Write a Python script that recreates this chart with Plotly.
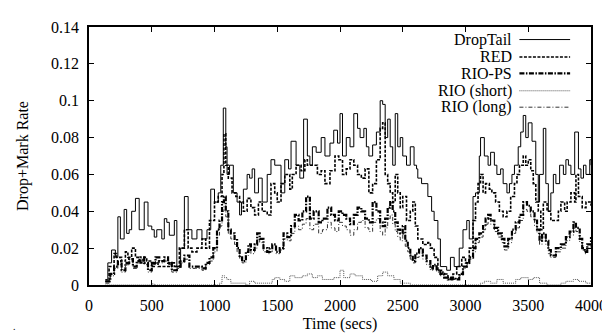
import plotly.graph_objects as go

# ---- data (time in secs, drop+mark rate) ----
droptail = [(130,0.003),(150,0.012),(180,0.019),(210,0.015),(230,0.037),(250,0.025),(280,0.041),(300,0.028),
    (320,0.030),(340,0.040),(370,0.047),(400,0.030),(440,0.045),(470,0.032),(500,0.030),(520,0.026),(540,0.030),
    (580,0.025),(600,0.036),(620,0.034),(640,0.027),(680,0.035),(700,0.010),(730,0.020),(760,0.048),(790,0.030),
    (820,0.025),(860,0.030),(900,0.025),(940,0.030),(970,0.052),(1000,0.045),(1030,0.050),(1050,0.065),(1070,0.096),
    (1090,0.075),(1100,0.060),(1120,0.065),(1150,0.050),(1180,0.045),(1200,0.038),(1215,0.045),(1230,0.052),
    (1260,0.060),(1280,0.058),(1300,0.063),(1320,0.050),(1350,0.058),(1380,0.045),(1420,0.060),(1450,0.068),
    (1480,0.065),(1530,0.050),(1560,0.068),(1590,0.063),(1610,0.078),(1650,0.065),(1680,0.058),(1710,0.090),
    (1740,0.070),(1760,0.065),(1780,0.075),(1810,0.072),(1850,0.080),(1880,0.070),(1920,0.077),(1950,0.084),
    (1980,0.077),(2000,0.093),(2020,0.070),(2050,0.080),(2080,0.075),(2110,0.093),(2140,0.085),(2160,0.080),
    (2190,0.085),(2210,0.075),(2230,0.070),(2260,0.076),(2290,0.083),(2320,0.100),(2340,0.098),(2360,0.080),
    (2380,0.090),(2400,0.075),(2420,0.065),(2440,0.093),(2460,0.075),(2480,0.080),(2500,0.070),(2530,0.065),
    (2560,0.075),(2590,0.065),(2610,0.063),(2620,0.058),(2650,0.055),(2700,0.048),(2730,0.040),(2750,0.035),
    (2780,0.025),(2800,0.010),(2850,0.008),(2880,0.015),(2910,0.010),(2950,0.020),(2980,0.030),(3010,0.035),
    (3030,0.025),(3060,0.048),(3080,0.050),(3110,0.070),(3120,0.080),(3150,0.070),(3180,0.065),(3200,0.072),
    (3230,0.065),(3250,0.060),(3280,0.063),(3300,0.055),(3330,0.050),(3350,0.055),(3370,0.060),(3390,0.065),
    (3420,0.075),(3440,0.083),(3460,0.092),(3480,0.080),(3500,0.088),(3530,0.078),(3560,0.060),(3580,0.045),
    (3590,0.060),(3620,0.085),(3640,0.055),(3660,0.040),(3680,0.050),(3700,0.060),(3720,0.055),(3750,0.065),
    (3780,0.060),(3800,0.068),(3820,0.065),(3840,0.060),(3870,0.083),(3900,0.063),(3920,0.058),(3940,0.065),
    (3960,0.060),(3990,0.068),(4000,0.065)]

red = [(130,0.002),(160,0.010),(200,0.017),(220,0.015),(260,0.013),(290,0.018),(310,0.015),(340,0.020),(370,0.015),
    (400,0.012),(430,0.015),(460,0.013),(500,0.010),(520,0.012),(550,0.010),(600,0.010),(640,0.012),(680,0.010),
    (720,0.020),(760,0.030),(790,0.020),(820,0.018),(860,0.020),(900,0.025),(930,0.020),(960,0.035),(1000,0.045),
    (1030,0.048),(1060,0.060),(1075,0.082),(1090,0.065),(1110,0.058),(1140,0.050),(1170,0.048),(1200,0.045),
    (1230,0.040),(1260,0.047),(1290,0.042),(1320,0.038),(1350,0.045),(1380,0.040),(1420,0.038),(1450,0.055),
    (1480,0.050),(1500,0.045),(1530,0.055),(1560,0.060),(1600,0.052),(1620,0.060),(1650,0.065),(1690,0.062),
    (1720,0.068),(1740,0.065),(1780,0.065),(1820,0.060),(1850,0.062),(1880,0.055),(1920,0.062),(1960,0.070),
    (1990,0.068),(2020,0.060),(2050,0.063),(2080,0.068),(2110,0.065),(2140,0.060),(2170,0.058),(2200,0.063),
    (2230,0.050),(2260,0.055),(2290,0.068),(2320,0.085),(2340,0.088),(2360,0.060),(2380,0.055),(2400,0.050),
    (2420,0.045),(2440,0.060),(2460,0.050),(2480,0.042),(2500,0.048),(2530,0.035),(2560,0.040),(2580,0.045),
    (2600,0.032),(2620,0.025),(2660,0.022),(2700,0.023),(2720,0.020),(2750,0.015),(2780,0.008),(2820,0.006),
    (2860,0.004),(2880,0.003),(2900,0.006),(2930,0.010),(2970,0.015),(3000,0.012),(3030,0.020),(3060,0.035),
    (3080,0.045),(3100,0.055),(3120,0.060),(3140,0.050),(3160,0.055),(3190,0.052),(3210,0.050),(3240,0.045),
    (3270,0.040),(3300,0.037),(3330,0.040),(3360,0.048),(3390,0.055),(3410,0.060),(3430,0.065),(3460,0.070),
    (3480,0.065),(3500,0.068),(3520,0.062),(3540,0.055),(3560,0.045),(3580,0.040),(3600,0.030),(3620,0.045),
    (3650,0.040),(3680,0.035),(3720,0.035),(3740,0.040),(3760,0.045),(3790,0.040),(3810,0.045),(3840,0.050),
    (3870,0.045),(3880,0.060),(3900,0.048),(3930,0.042),(3960,0.045),(4000,0.043)]

rio_ps = [(130,0.002),(170,0.006),(200,0.010),(230,0.013),(260,0.008),(290,0.012),(320,0.014),(350,0.010),(380,0.013),
    (410,0.015),(440,0.012),(470,0.008),(500,0.012),(530,0.015),(560,0.013),(600,0.015),(630,0.012),(660,0.008),
    (700,0.010),(730,0.013),(760,0.016),(800,0.010),(850,0.010),(900,0.009),(930,0.012),(960,0.015),(990,0.020),
    (1020,0.030),(1040,0.035),(1060,0.045),(1075,0.048),(1090,0.040),(1110,0.030),(1130,0.028),(1160,0.025),
    (1180,0.020),(1200,0.015),(1220,0.013),(1250,0.018),(1270,0.022),(1290,0.019),(1320,0.022),(1340,0.028),
    (1360,0.025),(1390,0.020),(1420,0.018),(1440,0.020),(1460,0.022),(1490,0.018),(1520,0.020),(1550,0.028),
    (1580,0.026),(1610,0.032),(1640,0.038),(1670,0.035),(1700,0.040),(1730,0.048),(1760,0.036),(1790,0.040),
    (1830,0.034),(1860,0.036),(1900,0.042),(1930,0.038),(1960,0.035),(1990,0.040),(2020,0.038),(2050,0.036),
    (2080,0.033),(2110,0.038),(2140,0.042),(2170,0.040),(2200,0.036),(2230,0.034),(2260,0.045),(2290,0.040),
    (2320,0.034),(2340,0.032),(2360,0.036),(2380,0.042),(2400,0.045),(2420,0.040),(2440,0.034),(2460,0.030),
    (2480,0.028),(2500,0.032),(2520,0.024),(2540,0.020),(2560,0.016),(2580,0.013),(2600,0.017),(2630,0.020),
    (2660,0.016),(2690,0.013),(2720,0.009),(2740,0.011),(2770,0.008),(2800,0.006),(2830,0.004),(2860,0.003),
    (2890,0.004),(2920,0.003),(2950,0.006),(2980,0.010),(3010,0.012),(3030,0.015),(3060,0.020),(3080,0.025),
    (3110,0.028),(3140,0.032),(3160,0.036),(3180,0.038),(3200,0.035),(3230,0.031),(3260,0.028),(3290,0.025),
    (3310,0.021),(3340,0.025),(3370,0.030),(3400,0.034),(3430,0.038),(3460,0.045),(3490,0.043),(3520,0.040),
    (3550,0.035),(3570,0.030),(3590,0.024),(3610,0.028),(3640,0.024),(3660,0.019),(3680,0.016),(3720,0.020),
    (3760,0.022),(3800,0.026),(3830,0.029),(3860,0.034),(3880,0.031),(3910,0.025),(3930,0.020),(3950,0.018),
    (3970,0.022),(4000,0.026)]

rio_short = [(130,0.0),(480,0.0),(500,0.0006),(520,0.0),(1040,0.001),(1060,0.005),(1080,0.004),(1100,0.003),
    (1130,0.001),(1250,0.0),(1280,0.002),(1320,0.001),(1460,0.003),(1480,0.004),(1520,0.003),(1560,0.002),
    (1600,0.005),(1640,0.004),(1700,0.005),(1740,0.006),(1780,0.004),(1820,0.005),(1860,0.003),(1950,0.004),
    (2000,0.008),(2030,0.004),(2080,0.006),(2120,0.005),(2180,0.003),(2250,0.002),(2300,0.005),(2340,0.007),
    (2380,0.005),(2430,0.003),(2480,0.001),(2560,0.0),(3120,0.001),(3150,0.002),(3200,0.001),(3250,0.003),
    (3300,0.001),(3400,0.003),(3440,0.004),(3500,0.003),(3540,0.004),(3590,0.001),(3650,0.0),(3760,0.001),
    (3800,0.002),(3860,0.003),(3900,0.002),(3960,0.001),(4000,0.001)]

rio_long = [(130,0.001),(170,0.005),(200,0.009),(230,0.011),(260,0.007),(290,0.011),(320,0.013),(350,0.009),(380,0.012),
    (410,0.013),(440,0.011),(470,0.007),(500,0.011),(530,0.013),(560,0.012),(600,0.013),(630,0.011),(660,0.007),
    (700,0.009),(730,0.012),(760,0.014),(800,0.009),(850,0.009),(900,0.008),(930,0.011),(960,0.013),(990,0.018),
    (1020,0.027),(1040,0.032),(1060,0.040),(1075,0.043),(1090,0.037),(1110,0.028),(1130,0.025),(1160,0.022),
    (1180,0.018),(1200,0.014),(1220,0.012),(1250,0.016),(1270,0.020),(1290,0.017),(1320,0.020),(1340,0.025),
    (1360,0.023),(1390,0.018),(1420,0.017),(1440,0.018),(1460,0.020),(1490,0.017),(1520,0.019),(1550,0.025),
    (1580,0.024),(1610,0.028),(1640,0.032),(1670,0.030),(1700,0.033),(1730,0.036),(1760,0.030),(1790,0.033),
    (1830,0.028),(1860,0.030),(1900,0.034),(1930,0.031),(1960,0.029),(1990,0.034),(2020,0.032),(2050,0.030),
    (2080,0.027),(2110,0.030),(2140,0.034),(2170,0.035),(2200,0.031),(2230,0.029),(2260,0.034),(2290,0.036),
    (2320,0.029),(2340,0.027),(2360,0.031),(2380,0.036),(2400,0.038),(2420,0.033),(2440,0.029),(2460,0.026),
    (2480,0.024),(2500,0.028),(2520,0.021),(2540,0.018),(2560,0.014),(2580,0.012),(2600,0.015),(2630,0.017),
    (2660,0.014),(2690,0.011),(2720,0.008),(2740,0.010),(2770,0.007),(2800,0.005),(2830,0.004),(2860,0.003),
    (2890,0.003),(2920,0.003),(2950,0.005),(2980,0.009),(3010,0.011),(3030,0.014),(3060,0.018),(3080,0.023),
    (3110,0.026),(3140,0.030),(3160,0.033),(3180,0.036),(3200,0.033),(3230,0.029),(3260,0.026),(3290,0.023),
    (3310,0.019),(3340,0.023),(3370,0.028),(3400,0.031),(3430,0.035),(3460,0.041),(3490,0.040),(3520,0.037),
    (3550,0.032),(3570,0.028),(3590,0.022),(3610,0.026),(3640,0.022),(3660,0.017),(3680,0.015),(3720,0.018),
    (3760,0.020),(3800,0.024),(3830,0.027),(3860,0.031),(3880,0.029),(3910,0.023),(3930,0.019),(3950,0.017),
    (3970,0.020),(4000,0.024)]

series_names = ["DropTail", "RED", "RIO-PS", "RIO (short)", "RIO (long)"]
x_ticks = [0, 500, 1000, 1500, 2000, 2500, 3000, 3500, 4000]
y_ticks = [0, 0.02, 0.04, 0.06, 0.08, 0.10, 0.12, 0.14]
y_tick_labels = ["0", "0.02", "0.04", "0.06", "0.08", "0.1", "0.12", "0.14"]

# ---- styles ----
styles = [
    dict(color="black", width=1.0, dash="solid"),
    dict(color="black", width=1.6, dash="3px,1.5px"),
    dict(color="black", width=2.2, dash="5px,1.5px,1.5px,1.5px"),
    dict(color="#555555", width=1.0, dash="1px,1px"),
    dict(color="#333333", width=1.0, dash="4px,2px,1px,2px"),
]

FONT = "Liberation Serif"
W, H = 610, 333
L, R, T, B = 81, 586, 11, 278

fig = go.Figure()
all_series = [droptail, red, rio_ps, rio_short, rio_long]
order = [4, 3, 2, 1, 0]
for i in order:
    s = all_series[i]
    fig.add_trace(go.Scatter(
        x=[p[0] for p in s], y=[p[1] for p in s], mode="lines",
        line=dict(shape="hv", **styles[i]), name=series_names[i], showlegend=False))

# gnuplot-style key: right-aligned text, sample line on its right
key_rows_px = [24, 42, 59, 77, 94]
def px_x(px):
    return (px - L) / (R - L)
def px_y(py):
    return (B - py) / (B - T)
for i, name in enumerate(series_names):
    yy = px_y(key_rows_px[i])
    fig.add_annotation(x=px_x(509), y=yy, xref="paper", yref="paper", text=name,
                       showarrow=False, xanchor="right", yanchor="middle",
                       font=dict(family=FONT, size=16, color="black"))
    fig.add_shape(type="line", xref="paper", yref="paper",
                  x0=px_x(514), x1=px_x(565), y0=yy, y1=yy,
                  line=dict(color=styles[i]["color"], width=styles[i]["width"], dash=styles[i]["dash"]))

fig.add_annotation(x=px_x(3), y=px_y(321), xref="paper", yref="paper", text=".", showarrow=False,
                   xanchor="left", yanchor="middle", font=dict(family=FONT, size=10, color="black"))

axis_common = dict(showgrid=False, zeroline=False, showline=True, linecolor="black", linewidth=1.5,
                   mirror="allticks", ticks="inside", ticklen=5, tickwidth=1, tickcolor="black",
                   ticklabelstandoff=5,
                   tickfont=dict(family=FONT, size=16, color="black"))
fig.update_xaxes(range=[0, 4000], tickvals=x_ticks, ticktext=[str(v) for v in x_ticks],
                 title=dict(text="Time (secs)", font=dict(family=FONT, size=16, color="black"), standoff=5),
                 **axis_common)
fig.update_yaxes(range=[0, 0.14], tickvals=y_ticks, ticktext=y_tick_labels,
                 title=dict(text="Drop+Mark Rate", font=dict(family=FONT, size=16, color="black"), standoff=18),
                 **axis_common)
fig.update_layout(width=W, height=H, margin=dict(l=L, r=W - R, t=T, b=H - B),
                  paper_bgcolor="white", plot_bgcolor="white", showlegend=False,
                  font=dict(family=FONT, color="black"))
fig.write_html("out.html")
